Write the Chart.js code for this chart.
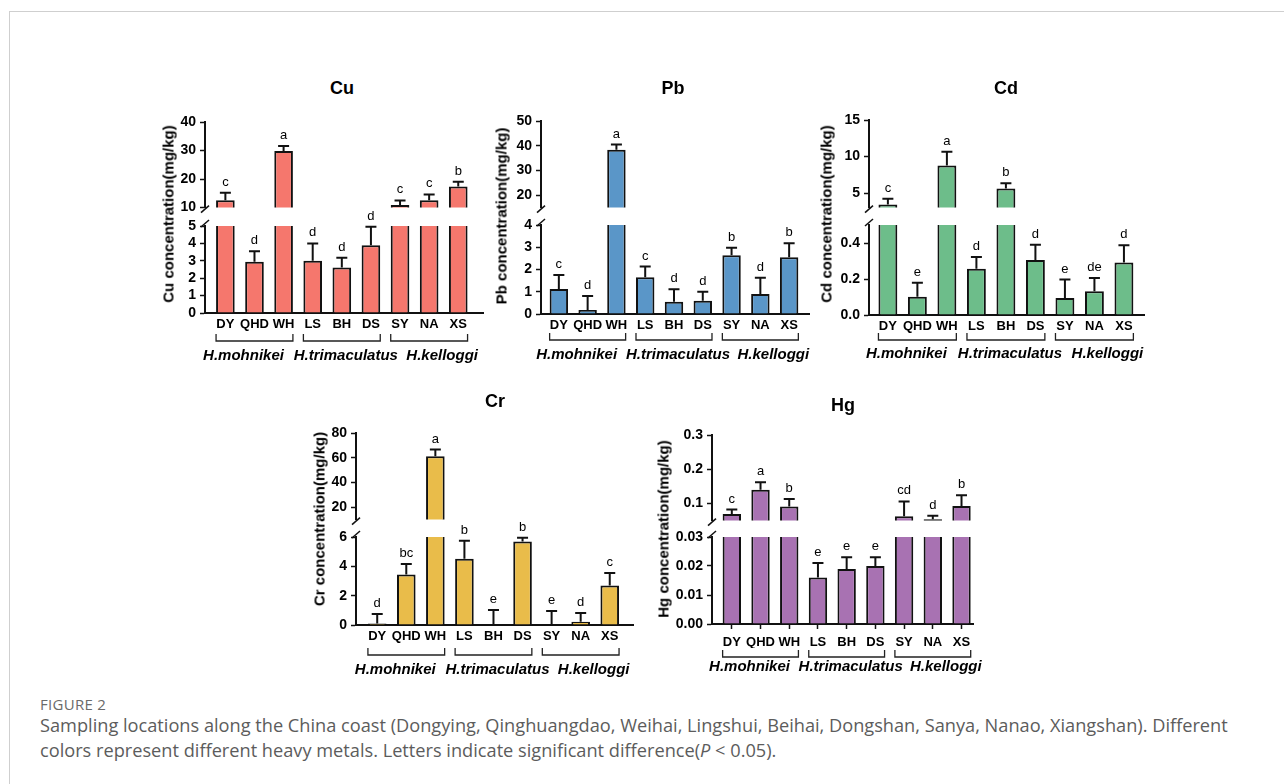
<!DOCTYPE html>
<html>
<head>
<meta charset="utf-8">
<script src="https://cdn.jsdelivr.net/npm/chart.js@4.4.1/dist/chart.umd.min.js"></script>
<style>
  body { margin: 0; background: #fff; width: 1284px; height: 784px; overflow: hidden; position: relative;
         font-family: "Liberation Sans", Arial, sans-serif; }
  .frame-top { position: absolute; left: 9px; top: 11px; right: 0; border-top: 1px solid #cfcfcf; }
  .frame-left { position: absolute; left: 9px; top: 11px; bottom: 0; border-left: 1px solid #cfcfcf; }
  canvas { position: absolute; }
  .ttl { position: absolute; font-weight: bold; font-size: 18px; transform: translate(-50%, -50%); white-space: nowrap; color: #000; }
  .ylab { position: absolute; font-weight: bold; font-size: 15px; white-space: nowrap; color: #000;
          transform: translate(-50%, -50%) rotate(-90deg); }
  .figlab { position: absolute; left: 40px; top: 694px; font-family: "Open Sans", sans-serif; font-size: 15px; color: #6a6a6a; letter-spacing: 0.3px; }
  .cap { position: absolute; left: 40px; top: 713px; font-family: "Open Sans", sans-serif; font-size: 18.2px; line-height: 25px; color: #5c5c5c; white-space: nowrap; }
</style>
</head>
<body>
<div class="frame-top"></div>
<div class="frame-left"></div>
<div class="figlab">FIGURE 2</div>
<div class="cap">Sampling locations along the China coast (Dongying, Qinghuangdao, Weihai, Lingshui, Beihai, Dongshan, Sanya, Nanao, Xiangshan). Different<br>colors represent different heavy metals. Letters indicate significant difference(<i>P</i> &lt; 0.05).</div>

<script>
// shared categories
const sites = ['DY', 'QHD', 'WH', 'LS', 'BH', 'DS', 'SY', 'NA', 'XS'];
const species = ['H.mohnikei', 'H.trimaculatus', 'H.kelloggi'];
const groupIdx = [[0, 2], [3, 5], [6, 8]];

// Cu
const cuMean = [12.6, 2.95, 29.8, 3.0, 2.62, 3.9, 10.9, 12.6, 17.4];
const cuErr = [15.2, 3.55, 31.6, 4.0, 3.18, 4.95, 12.5, 14.6, 19.1];
const cuLetters = ['c', 'd', 'a', 'd', 'd', 'd', 'c', 'c', 'b'];
const cuUpper = [10, 40], cuLower = [0, 5];
const cuUpperTicks = [10, 20, 30, 40], cuLowerTicks = [0, 1, 2, 3, 4, 5];

// Pb
const pbMean = [1.12, 0.18, 38.4, 1.65, 0.55, 0.6, 2.64, 0.9, 2.55];
const pbErr = [1.75, 0.81, 40.5, 2.13, 1.11, 1.0, 2.98, 1.63, 3.18];
const pbLetters = ['c', 'd', 'a', 'c', 'd', 'd', 'b', 'd', 'b'];
const pbUpper = [15, 50], pbLower = [0, 4];
const pbUpperTicks = [20, 30, 40, 50], pbLowerTicks = [0, 1, 2, 3, 4];

// Cd
const cdMean = [3.44, 0.102, 8.78, 0.257, 5.62, 0.305, 0.095, 0.132, 0.292];
const cdErr = [4.2, 0.179, 10.64, 0.322, 6.33, 0.39, 0.197, 0.205, 0.387];
const cdLetters = ['c', 'e', 'a', 'd', 'b', 'd', 'e', 'de', 'd'];
const cdUpper = [3, 15], cdLower = [0, 0.5];
const cdUpperTicks = [5, 10, 15], cdLowerTicks = [0, 0.2, 0.4];

// Cr
const crMean = [0.1, 3.44, 61.3, 4.52, 0, 5.7, 0, 0.23, 2.69];
const crErr = [0.75, 4.16, 66.6, 5.75, 1.02, 5.95, 0.95, 0.81, 3.55];
const crLetters = ['d', 'bc', 'a', 'b', 'e', 'b', 'e', 'd', 'c'];
const crUpper = [10, 80], crLower = [0, 6];
const crUpperTicks = [20, 40, 60, 80], crLowerTicks = [0, 2, 4, 6];

// Hg
const hgMean = [0.0696, 0.14, 0.0915, 0.016, 0.019, 0.020, 0.0626, 0.054, 0.093];
const hgErr = [0.0824, 0.162, 0.113, 0.021, 0.023, 0.023, 0.106, 0.064, 0.124];
const hgLetters = ['c', 'a', 'b', 'e', 'e', 'e', 'cd', 'd', 'b'];
const hgUpper = [0.05, 0.3], hgLower = [0, 0.03];
const hgUpperTicks = [0.1, 0.2, 0.3], hgLowerTicks = [0, 0.01, 0.02, 0.03];

// panel layout (pixel geometry of each panel)
const panels = [
  { name: 'Cu', ylabel: 'Cu concentration(mg/kg)', color: '#f5776d',
    mean: cuMean, err: cuErr, letters: cuLetters, upper: cuUpper, lower: cuLower,
    upperTicks: cuUpperTicks, lowerTicks: cuLowerTicks, upperDec: 0, lowerDec: 0,
    ax: 205, xEnd: 483, uTop: 122, uBot: 209.5, lTop: 225.5, lBot: 312.3, xMin: -0.70, xMax: 8.85,
    titleX: 342, titleY: 88, yLabX: 167.5, yLabY: 214, xTicks: false, bracketDy: 28, speciesDy: 43 },
  { name: 'Pb', ylabel: 'Pb concentration(mg/kg)', color: '#5a96c8',
    mean: pbMean, err: pbErr, letters: pbLetters, upper: pbUpper, lower: pbLower,
    upperTicks: pbUpperTicks, lowerTicks: pbLowerTicks, upperDec: 0, lowerDec: 0,
    ax: 540.5, xEnd: 808, uTop: 120.7, uBot: 210, lTop: 225, lBot: 314, xMin: -0.62, xMax: 8.69,
    titleX: 673, titleY: 88, yLabX: 500.5, yLabY: 216, xTicks: false, bracketDy: 26, speciesDy: 41 },
  { name: 'Cd', ylabel: 'Cd concentration(mg/kg)', color: '#6dbd8a',
    mean: cdMean, err: cdErr, letters: cdLetters, upper: cdUpper, lower: cdLower,
    upperTicks: cdUpperTicks, lowerTicks: cdLowerTicks, upperDec: 0, lowerDec: 1,
    ax: 868.5, xEnd: 1143.3, uTop: 120, uBot: 209.5, lTop: 224.5, lBot: 314, xMin: -0.64, xMax: 8.68,
    titleX: 1006, titleY: 88, yLabX: 826, yLabY: 214, xTicks: false, bracketDy: 25, speciesDy: 39 },
  { name: 'Cr', ylabel: 'Cr concentration(mg/kg)', color: '#e9bc4a',
    mean: crMean, err: crErr, letters: crLetters, upper: crUpper, lower: crLower,
    upperTicks: crUpperTicks, lowerTicks: crLowerTicks, upperDec: 0, lowerDec: 0,
    ax: 356, xEnd: 633.3, uTop: 433.3, uBot: 522, lTop: 536.7, lBot: 625, xMin: -0.73, xMax: 8.8,
    titleX: 495, titleY: 401, yLabX: 319, yLabY: 519, xTicks: false, bracketDy: 30, speciesDy: 45 },
  { name: 'Hg', ylabel: 'Hg concentration(mg/kg)', color: '#a872b2',
    mean: hgMean, err: hgErr, letters: hgLetters, upper: hgUpper, lower: hgLower,
    upperTicks: hgUpperTicks, lowerTicks: hgLowerTicks, upperDec: 1, lowerDec: 2,
    ax: 712, xEnd: 973.3, uTop: 435, uBot: 522.5, lTop: 536.7, lBot: 624, xMin: -0.69, xMax: 8.4,
    titleX: 843, titleY: 405, yLabX: 663, yLabY: 529, xTicks: true, bracketDy: 33, speciesDy: 43 }
];

const speciesShift = [-11, 4, 13];
const FONT = '"Liberation Sans", Arial, sans-serif';
const YW = 48;          // y axis box width
const XH = 24;          // x axis box height
const BAR_PCT = 0.64;
const INK = '#111';

Chart.defaults.font.family = FONT;
Chart.defaults.color = '#000';

function addCanvas(left, top, w, h) {
  const c = document.createElement('canvas');
  c.width = Math.round(w); c.height = Math.round(h);
  c.style.left = left + 'px'; c.style.top = top + 'px';
  document.body.appendChild(c);
  return c;
}

function addText(cls, text, x, y) {
  const d = document.createElement('div');
  d.className = cls; d.textContent = text;
  d.style.left = x + 'px'; d.style.top = y + 'px';
  document.body.appendChild(d);
}

// error bars + significance letters
function errPlugin(p) {
  return {
    id: 'errbars',
    afterDatasetsDraw(chart) {
      const ctx = chart.ctx, ys = chart.scales.y, a = chart.chartArea;
      const meta = chart.getDatasetMeta(0);
      ctx.save();
      ctx.beginPath();
      ctx.rect(a.left, a.top - 1, a.right - a.left, a.bottom - a.top + 1);
      ctx.clip();
      ctx.strokeStyle = INK; ctx.lineWidth = 2;
      p.mean.forEach((m, i) => {
        const x = meta.data[i].x;
        const y0 = ys.getPixelForValue(m), y1 = ys.getPixelForValue(p.err[i]);
        ctx.beginPath();
        ctx.moveTo(x, y0); ctx.lineTo(x, y1);
        ctx.moveTo(x - 5.5, y1); ctx.lineTo(x + 5.5, y1);
        ctx.stroke();
      });
      ctx.restore();

      ctx.save();
      ctx.font = '13px ' + FONT;
      ctx.fillStyle = '#000'; ctx.textAlign = 'center'; ctx.textBaseline = 'alphabetic';
      p.letters.forEach((t, i) => {
        const v = p.err[i];
        if (v < ys.min || v > ys.max) return;
        ctx.fillText(t, meta.data[i].x, ys.getPixelForValue(v) - 7);
      });
      ctx.restore();
    }
  };
}

function yScale(range, ticks, dec) {
  return {
    min: range[0], max: range[1],
    afterBuildTicks: s => { s.ticks = ticks.map(v => ({ value: v })); },
    afterFit: s => { s.width = YW; },
    border: { display: true, color: INK, width: 2 },
    grid: { drawOnChartArea: false, drawTicks: true, tickLength: 5, tickColor: INK, tickWidth: 1.5 },
    ticks: { autoSkip: false, padding: 4, font: { size: 14, weight: 'bold' }, color: '#000',
             callback: v => Number(v).toFixed(dec) }
  };
}

function dataset(p) {
  return {
    data: p.mean.map((v, i) => ({ x: i, y: v })),
    backgroundColor: p.color, borderColor: INK, borderWidth: 2,
    borderSkipped: 'start', barPercentage: BAR_PCT, categoryPercentage: 1, clip: 0
  };
}

function makePanel(p) {
  const plotW = p.xEnd - p.ax;

  // upper segment
  const uPadTop = 22, uPadBot = 10, padR = 6;
  const cu = addCanvas(p.ax - YW, p.uTop - uPadTop, YW + plotW + padR, (p.uBot - p.uTop) + uPadTop + uPadBot);
  new Chart(cu, {
    type: 'bar',
    data: { datasets: [dataset(p)] },
    options: {
      responsive: false, animation: false,
      layout: { padding: { top: uPadTop, bottom: uPadBot, left: 0, right: padR } },
      plugins: { legend: { display: false }, tooltip: { enabled: false } },
      scales: {
        x: { type: 'linear', offset: false, min: p.xMin, max: p.xMax, display: false,
             grid: { offset: false } },
        y: yScale(p.upper, p.upperTicks, p.upperDec)
      }
    },
    plugins: [errPlugin(p), {
      id: 'breakU',
      afterDraw(chart) {
        const ctx = chart.ctx, a = chart.chartArea;
        ctx.save();
        ctx.strokeStyle = INK; ctx.lineWidth = 1.5;
        ctx.beginPath();
        ctx.moveTo(a.left - 4, a.bottom + 5); ctx.lineTo(a.left + 4, a.bottom - 2);
        ctx.stroke();
        ctx.restore();
      }
    }]
  });

  // lower segment with x axis, brackets, species
  const lPadTop = 32, lPadBot = 40, lPadR = 40;
  const cl = addCanvas(p.ax - YW, p.lTop - lPadTop, YW + plotW + lPadR, (p.lBot - p.lTop) + lPadTop + XH + lPadBot);
  new Chart(cl, {
    type: 'bar',
    data: { datasets: [dataset(p)] },
    options: {
      responsive: false, animation: false,
      layout: { padding: { top: lPadTop, bottom: lPadBot, left: 0, right: lPadR } },
      plugins: { legend: { display: false }, tooltip: { enabled: false } },
      scales: {
        x: {
          type: 'linear', offset: false, min: p.xMin, max: p.xMax,
          afterBuildTicks: s => { s.ticks = sites.map((_, i) => ({ value: i })); },
          afterFit: s => { s.height = XH; },
          border: { display: true, color: INK, width: 2 },
          grid: { offset: false, drawOnChartArea: false, drawTicks: p.xTicks, tickLength: 5, tickColor: INK, tickWidth: 1.5 },
          ticks: { autoSkip: false, maxRotation: 0, minRotation: 0, padding: p.xTicks ? 6 : 4,
                   font: { size: 13, weight: 'bold' }, color: '#000',
                   callback: v => sites[v] }
        },
        y: yScale(p.lower, p.lowerTicks, p.lowerDec)
      }
    },
    plugins: [errPlugin(p), {
      id: 'breakL',
      afterDraw(chart) {
        const ctx = chart.ctx, a = chart.chartArea, xs = chart.scales.x;
        ctx.save();
        ctx.strokeStyle = INK; ctx.lineWidth = 1.5;
        ctx.beginPath();
        ctx.moveTo(a.left - 4, a.top + 1); ctx.lineTo(a.left + 4, a.top - 6);
        ctx.stroke();

        // species brackets
        const half = (xs.getPixelForValue(1) - xs.getPixelForValue(0)) * BAR_PCT / 2;
        ctx.lineWidth = 1.3; ctx.strokeStyle = '#222';
        ctx.fillStyle = '#000';
        ctx.font = 'italic bold 15px ' + FONT;
        ctx.textAlign = 'center'; ctx.textBaseline = 'middle';
        groupIdx.forEach(([s, e], k) => {
          const x1 = xs.getPixelForValue(s) - half, x2 = xs.getPixelForValue(e) + half;
          const yb = a.bottom + p.bracketDy;
          ctx.beginPath();
          ctx.moveTo(x1, yb - 7); ctx.lineTo(x1, yb); ctx.lineTo(x2, yb); ctx.lineTo(x2, yb - 7);
          ctx.stroke();
          ctx.fillText(species[k], (x1 + x2) / 2 + speciesShift[k], a.bottom + p.speciesDy);
        });
        ctx.restore();
      }
    }]
  });

  addText('ttl', p.name, p.titleX, p.titleY);
  addText('ylab', p.ylabel, p.yLabX, p.yLabY);
}

panels.forEach(makePanel);
</script>
</body>
</html>
